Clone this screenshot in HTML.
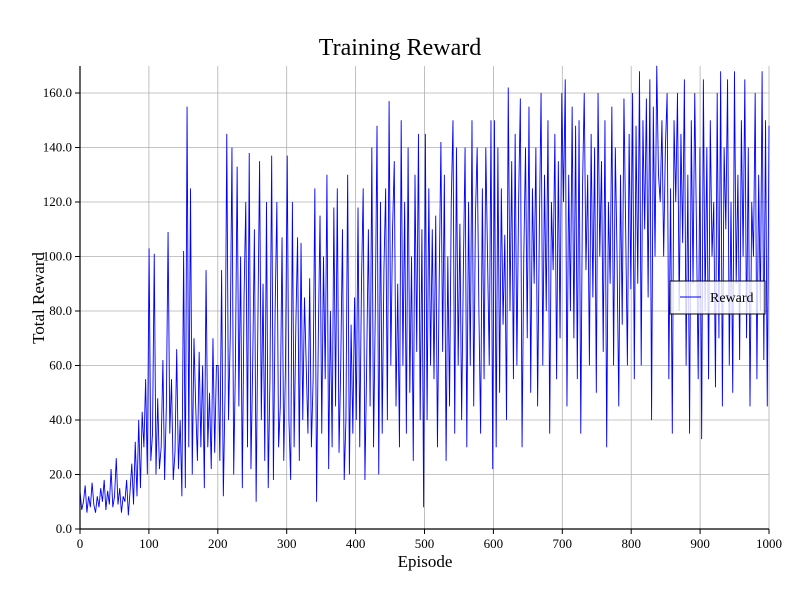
<!DOCTYPE html>
<html><head><meta charset="utf-8"><style>
body{margin:0;background:#fff;}
svg{display:block;font-family:"Liberation Serif",serif;}
</style></head><body>
<svg id="chart" width="800" height="600">
<rect width="800" height="600" fill="#fff"/>
<text x="400" y="55" text-anchor="middle" font-size="24">Training Reward</text>
<g id="grid"></g>
<g id="plot"></g>
<g id="axes"></g>
<text x="425" y="567" text-anchor="middle" font-size="17">Episode</text>
<text x="44" y="298" text-anchor="middle" font-size="17" transform="rotate(-90 44 298)">Total Reward</text>
<g>
<rect x="670" y="281" width="95" height="33" fill="rgba(255,255,255,0.8)" stroke="#000" stroke-width="1"/>
<line x1="680" y1="297" x2="701" y2="297" stroke="#0000ff" stroke-width="1"/>
<text x="710" y="302" font-size="14">Reward</text>
</g>
</svg>
<script>
const maxEpisode = 1000;
const rewards = [
14,7,10,16,6,12,8,17,9,6,12,8,15,10,18,7,14,9,22,8,12,26,9,15,6,12,10,18,5,14,24,9,32,12,40,15,43,30,55,20,
103,25,35,101,20,48,22,30,62,18,45,109,35,55,18,28,66,22,40,12,102,15,155,30,125,20,70,45,25,65,30,60,15,95,30,50,22,70,28,60,
60,25,95,12,50,145,40,70,140,20,60,133,45,100,15,85,120,30,138,22,60,110,10,75,135,40,90,25,120,15,55,137,18,80,120,30,45,107,25,60,
137,40,18,120,30,75,107,25,105,40,85,60,35,92,30,55,125,10,70,115,35,100,55,130,22,80,30,118,45,125,28,60,110,18,40,130,20,75,35,85,
40,118,30,90,125,18,60,110,45,140,30,80,148,20,120,35,95,125,40,157,60,110,135,45,90,30,150,60,120,35,140,50,100,25,130,65,145,40,110,8,
145,40,125,60,110,55,115,30,90,142,65,130,25,100,45,120,150,35,140,60,112,40,95,140,30,120,60,150,45,115,140,80,35,125,55,140,100,60,150,22,
150,30,140,50,125,75,108,40,162,80,135,55,145,60,120,158,30,100,140,70,155,50,125,90,140,45,110,160,60,130,80,150,35,120,95,145,55,135,70,160,
120,165,45,130,80,155,70,148,55,150,35,125,160,95,130,60,145,85,140,50,160,100,135,65,150,30,120,90,155,60,140,100,45,130,75,158,110,60,145,88,
160,55,148,90,168,60,150,110,158,85,165,40,155,100,170,130,120,150,100,140,160,55,125,35,150,120,160,80,145,105,165,60,130,35,150,90,160,110,55,140,
33,165,80,140,55,150,100,120,52,160,70,168,45,140,110,165,60,120,50,168,90,130,62,150,100,165,70,140,45,120,100,160,55,130,80,168,62,150,45,148];
const xTicks = [0,100,200,300,400,500,600,700,800,900,1000];
const yTicks = [0,20,40,60,80,100,120,140,160];
const yTickLabels = ["0.0","20.0","40.0","60.0","80.0","100.0","120.0","140.0","160.0"];

const NS="http://www.w3.org/2000/svg";
const X0=80,X1=769,Y0=529,Ytop=66;
const xs=v=>X0+(v/1000)*(X1-X0);
const ys=v=>Y0-v*(529-93)/160;
function mk(tag,attrs,parent){const e=document.createElementNS(NS,tag);for(const k in attrs)e.setAttribute(k,attrs[k]);parent.appendChild(e);return e;}
const grid=document.getElementById('grid'),plot=document.getElementById('plot'),axes=document.getElementById('axes');
xTicks.forEach(t=>{
  const g=mk('line',{x1:xs(t),x2:xs(t),y1:Ytop,y2:Y0,stroke:'#b0b0b0','stroke-width':0.8},grid);
  
  
  mk('line',{x1:xs(t),x2:xs(t),y1:Y0,y2:Y0+5,stroke:'#000','stroke-width':1},axes);
  const l=mk('text',{x:xs(t),y:Y0+19,'text-anchor':'middle','font-size':13},axes);
  l.textContent=t;
  
  
});
yTicks.forEach((t,i)=>{
  const g=mk('line',{x1:X0,x2:X1,y1:ys(t),y2:ys(t),stroke:'#b0b0b0','stroke-width':0.8},grid);
  
  
  mk('line',{x1:X0-5,x2:X0,y1:ys(t),y2:ys(t),stroke:'#000','stroke-width':1},axes);
  const l=mk('text',{x:X0-8,y:ys(t)+4,'text-anchor':'end','font-size':13},axes);
  l.textContent=yTickLabels[i];
  
  
});
mk('line',{x1:X0,x2:X0,y1:Ytop,y2:Y0,stroke:'#000','stroke-width':1.2},axes);
mk('line',{x1:X0,x2:X1,y1:Y0,y2:Y0,stroke:'#000','stroke-width':1.2},axes);
const stepSize = maxEpisode/(rewards.length-1);
const pts=rewards.map((v,i)=>xs(i*stepSize)+','+ys(v)).join(' ');
const pl=mk('polyline',{points:pts,fill:'none',stroke:'#0000ff','stroke-width':0.9},plot);


</script>
</body></html>
